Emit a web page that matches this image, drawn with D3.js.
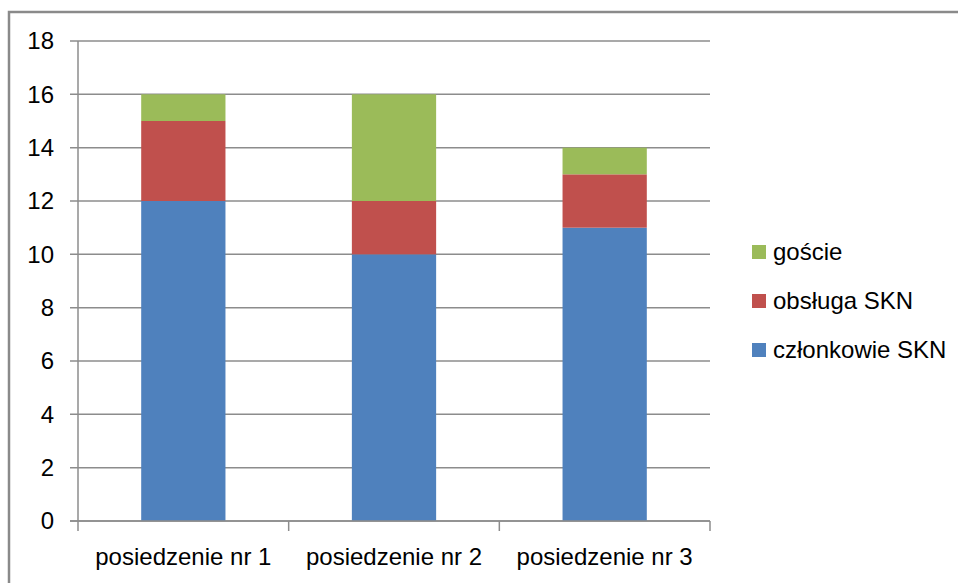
<!DOCTYPE html>
<html><head><meta charset="utf-8">
<script src="https://cdn.jsdelivr.net/npm/d3@7"></script>
<style>body{margin:0;background:#fff;} svg{display:block;}</style>
</head><body>
<svg id="c" width="958" height="583"></svg>
<script>
const categories = ["posiedzenie nr 1", "posiedzenie nr 2", "posiedzenie nr 3"];
const seriesNames = ["członkowie SKN", "obsługa SKN", "goście"];
const czlonkowie = [12, 10, 11];
const obsluga = [3, 2, 2];
const goscie = [1, 4, 1];
const yTicks = [0, 2, 4, 6, 8, 10, 12, 14, 16, 18];
const colors = ["#4F81BD", "#C0504D", "#9BBB59"];

const svg = d3.select("#c");
const font = "Liberation Sans, Arial, sans-serif";
const plotL = 78, plotR = 710, plotT = 41, plotB = 521;

svg.append("rect").attr("x", 9).attr("y", 12).attr("width", 980).attr("height", 620)
  .attr("fill", "#fff").attr("stroke", "#8a8a8a").attr("stroke-width", 2.5);

const x = d3.scaleBand().domain(categories).range([plotL, plotR]).paddingInner(0.6).paddingOuter(0.3);
const y = d3.scaleLinear().domain([0, 18]).range([plotB, plotT]);

// gridlines
svg.append("g").selectAll("line").data(yTicks).join("line")
  .attr("x1", plotL - 8).attr("x2", plotR).attr("y1", d => y(d)).attr("y2", d => y(d))
  .attr("stroke", "#8c8c8c").attr("stroke-width", 1.5);

// y axis line
svg.append("line").attr("x1", plotL).attr("x2", plotL).attr("y1", plotT).attr("y2", plotB)
  .attr("stroke", "#8c8c8c").attr("stroke-width", 1.5);

// y labels
svg.append("g").selectAll("text").data(yTicks).join("text")
  .attr("x", 54).attr("y", d => y(d)).attr("dy", "0.35em").attr("text-anchor", "end")
  .attr("font-family", font).attr("font-size", 24).attr("fill", "#000").text(d => d);

// stacked bars
const rows = categories.map((c, i) => ({cat: c, s0: czlonkowie[i], s1: obsluga[i], s2: goscie[i]}));
const stack = d3.stack().keys(["s0", "s1", "s2"])(rows);
svg.append("g").selectAll("g").data(stack).join("g").attr("fill", (d, i) => colors[i])
  .selectAll("rect").data(d => d).join("rect")
  .attr("x", d => x(d.data.cat)).attr("width", x.bandwidth())
  .attr("y", d => y(d[1])).attr("height", d => y(d[0]) - y(d[1]));

// x axis baseline and ticks
svg.append("line").attr("x1", plotL - 8).attr("x2", plotR).attr("y1", plotB).attr("y2", plotB)
  .attr("stroke", "#8c8c8c").attr("stroke-width", 1.5);
const step = x.step();
const boundaries = d3.range(categories.length + 1).map(i => plotL + i * step);
svg.append("g").selectAll("line").data(boundaries).join("line")
  .attr("x1", d => d).attr("x2", d => d).attr("y1", plotB).attr("y2", plotB + 10)
  .attr("stroke", "#8c8c8c").attr("stroke-width", 1.5);

// x labels
svg.append("g").selectAll("text").data(categories).join("text")
  .attr("x", d => x(d) + x.bandwidth() / 2).attr("y", 565).attr("text-anchor", "middle")
  .attr("font-family", font).attr("font-size", 24).attr("fill", "#000").text(d => d);

// legend (reverse order)
const legendY = [350, 301, 252];
const lg = svg.append("g").selectAll("g").data(seriesNames).join("g")
  .attr("transform", (d, i) => `translate(752,${legendY[i]})`);
lg.append("rect").attr("x", 0).attr("y", -7).attr("width", 14).attr("height", 14)
  .attr("fill", (d, i) => colors[i]);
lg.append("text").attr("x", 21).attr("y", 0).attr("dy", "0.35em")
  .attr("font-family", font).attr("font-size", 24).attr("fill", "#000").text(d => d);
</script>
</body></html>
